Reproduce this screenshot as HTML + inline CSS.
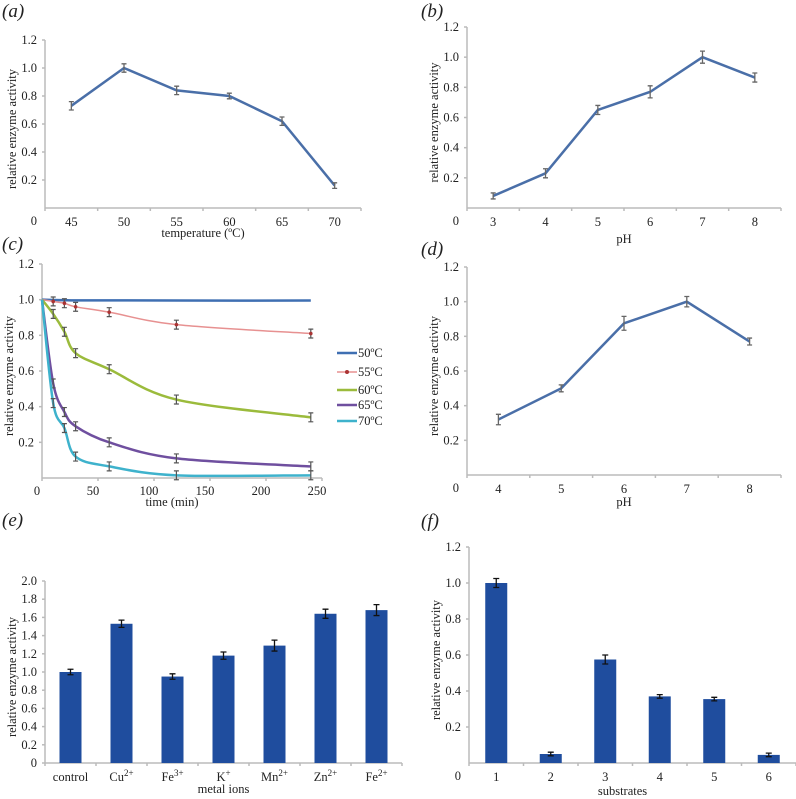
<!DOCTYPE html>
<html><head><meta charset="utf-8"><style>
body{margin:0;background:#fff}
svg{font-family:"Liberation Serif",serif;display:block}
.t{font-size:12.5px;fill:#222}
.ax{stroke:#bbb;stroke-width:1.5;fill:none}
.pl{font-size:19px;font-style:italic;fill:#222}
</style></head><body>
<svg id="s" width="796" height="799"></svg>
<script>
const aCats=['45','50','55','60','65','70'];
const aVals=[0.73,1.0,0.84,0.80,0.62,0.16];
const aErr=[0.03,0.03,0.03,0.02,0.03,0.02];
const bCats=['3','4','5','6','7','8'];
const bVals=[0.08,0.23,0.65,0.77,1.0,0.865];
const bErr=[0.02,0.03,0.03,0.04,0.04,0.03];
const dCats=['4','5','6','7','8'];
const dVals=[0.32,0.50,0.875,1.0,0.77];
const dErr=[0.03,0.02,0.04,0.03,0.02];
const cTimes=[0,10,20,30,60,120,240];
const cSeries=['50ºC','55ºC','60ºC','65ºC','70ºC'];
const c50=[1.0,0.998,0.997,0.996,0.996,0.995,0.995];
const c55=[1.0,0.99,0.98,0.96,0.93,0.86,0.81];
const c60=[1.0,0.92,0.82,0.70,0.61,0.44,0.34];
const c65=[1.0,0.53,0.37,0.29,0.20,0.11,0.065];
const c70=[1.0,0.42,0.28,0.12,0.065,0.015,0.015];
const cTicksX=[0,50,100,150,200,250];
const eCats=['control','Cu','Fe','K','Mn','Zn','Fe'];
const eSup=['','2+','3+','+','2+','2+','2+'];
const eVals=[1.0,1.53,0.95,1.18,1.29,1.64,1.68];
const eErr=[0.03,0.04,0.03,0.04,0.06,0.05,0.06];
const fCats=['1','2','3','4','5','6'];
const fVals=[1.0,0.05,0.575,0.37,0.355,0.045];
const fErr=[0.025,0.01,0.025,0.01,0.01,0.01];
const ticks12=[0.2,0.4,0.6,0.8,1.0,1.2];
const ticks20=[0,0.2,0.4,0.6,0.8,1.0,1.2,1.4,1.6,1.8,2.0];

const S=document.getElementById('s');const NS='http://www.w3.org/2000/svg';
function el(tag,at,par){const e=document.createElementNS(NS,tag);for(const k in at)e.setAttribute(k,at[k]);(par||S).appendChild(e);return e;}
function txt(x,y,s,cls,anchor,par){const e=el('text',{x:x,y:y,class:cls||'t','text-anchor':anchor||'middle'},par);e.textContent=s;return e;}

function panel(o){
  const g=el('g',{});
  
  
  const lab=txt(o.lx,o.ly,o.label,'pl','start',g);
  
  
  const Y=v=>o.y0-(v/o.ymax)*(o.y0-o.ytop);
  el('line',{x1:o.x0,y1:o.ytop,x2:o.x0,y2:o.y0,class:'ax'},g);
  el('line',{x1:o.x0,y1:o.y0,x2:o.x1,y2:o.y0,class:'ax'},g);
  o.yt.forEach(v=>{const t=txt(o.x0-8,Y(v)+4,v===0?'0':v.toFixed(1),'t','end',g);
    el('line',{x1:o.x0-3,y1:Y(v),x2:o.x0,y2:Y(v),class:'ax'},g);});
  if(o.zero){const z=txt(o.x0-8,o.y0+17,'0','t','end',g);}
  const yt=el('text',{x:0,y:0,class:'t','text-anchor':'middle',transform:`translate(${o.x0-29},${(o.ytop+o.y0)/2+5}) rotate(-90)`},g);
  yt.textContent='relative enzyme activity';
  
  const xt=txt((o.x0+o.x1)/2+o.xtOff,o.xty,o.xtitle,'t','middle',g);
  
  return {g,Y};
}
function catPanel(o){
  const {g,Y}=panel(o);
  const n=o.cats.length,w=(o.x1-o.x0)/n,X=i=>o.x0+w*(i+.5);
  for(let i=0;i<=n;i++)el('line',{x1:o.x0+w*i,y1:o.y0,x2:o.x0+w*i,y2:o.y0+3,class:'ax'},g);
  o.cats.forEach((c,i)=>{const t=txt(X(i),o.y0+18,c,'t','middle',g);
    if(o.sup&&o.sup[i]){const ts=el('tspan',{dy:-5,'font-size':9},t);ts.textContent=o.sup[i];}
    });
  if(o.bars){
    o.vals.forEach((v,i)=>{const r=el('rect',{x:X(i)-11,y:Y(v),width:22,height:o.y0-Y(v),fill:'#1f4d9e'},g);
      
      const e=o.err[i];el('path',{d:`M${X(i)},${Y(v-e)}V${Y(v+e)}M${X(i)-3},${Y(v+e)}h6M${X(i)-3},${Y(v-e)}h6`,stroke:'#111','stroke-width':1.3},g);});
  }else{
    const p=el('polyline',{points:o.vals.map((v,i)=>X(i)+','+Y(v)).join(' '),fill:'none',stroke:'#4a6fa8','stroke-width':2.5},g);
    
    o.vals.forEach((v,i)=>{const e=o.err[i];const eb=el('path',{d:`M${X(i)},${Y(v-e)}V${Y(v+e)}M${X(i)-2.5},${Y(v+e)}h5M${X(i)-2.5},${Y(v-e)}h5`,stroke:'#666','stroke-width':1.3},g);
      });
  }
}
catPanel({name:'panel-a',label:'(a)',lx:2,ly:17,x0:45,x1:361,y0:208,ytop:40,ymax:1.2,yt:ticks12,zero:true,cats:aCats,vals:aVals,err:aErr,xtitle:'temperature (ºC)',xty:237,xtOff:0});
catPanel({name:'panel-b',label:'(b)',lx:421,ly:17,x0:467,x1:781,y0:208,ytop:27,ymax:1.2,yt:ticks12,zero:true,cats:bCats,vals:bVals,err:bErr,xtitle:'pH',xty:243,xtOff:0});
catPanel({name:'panel-d',label:'(d)',lx:421,ly:255,x0:467,x1:781,y0:475,ytop:267,ymax:1.2,yt:ticks12,zero:true,cats:dCats,vals:dVals,err:dErr,xtitle:'pH',xty:506,xtOff:0});
catPanel({name:'panel-e',label:'(e)',lx:2,ly:526,x0:45,x1:402,y0:763,ytop:581,ymax:2.0,yt:ticks20,zero:false,cats:eCats,sup:eSup,vals:eVals,err:eErr,bars:true,xtitle:'metal ions',xty:793,xtOff:0});
catPanel({name:'panel-f',label:'(f)',lx:421,ly:527,x0:469,x1:796,y0:763,ytop:547,ymax:1.2,yt:ticks12,zero:true,cats:fCats,vals:fVals,err:fErr,bars:true,xtitle:'substrates',xty:795,xtOff:-10});

// panel c
(function(){
  const o={name:'panel-c',label:'(c)',lx:2,ly:250,x0:42,x1:322,y0:478,ytop:264,ymax:1.2,yt:ticks12,zero:false,xtitle:'time (min)',xty:506,xtOff:-10};
  const {g,Y}=panel(o);
  const X=t=>o.x0+(t/250)*(o.x1-o.x0);
  cTicksX.forEach(t=>{const l=txt(X(t)-5,o.y0+17,String(t),'t','middle',g);
    el('line',{x1:X(t),y1:o.y0,x2:X(t),y2:o.y0+3,class:'ax'},g);});
  const series=[c50,c55,c60,c65,c70];
  const cols=['#3f6fb2','#e79191','#9bbb3c','#6f4f9f','#3eb2cc'];
  function smooth(pts){let d=`M${pts[0][0]},${pts[0][1]}`;
    for(let i=0;i<pts.length-1;i++){const p0=pts[i-1]||pts[i],p1=pts[i],p2=pts[i+1],p3=pts[i+2]||p2;
      d+=`C${p1[0]+(p2[0]-p0[0])/6},${p1[1]+(p2[1]-p0[1])/6} ${p2[0]-(p3[0]-p1[0])/6},${p2[1]-(p3[1]-p1[1])/6} ${p2[0]},${p2[1]}`;}
    return d;}
  series.forEach((s,k)=>{
    const pts=s.map((v,i)=>[X(cTimes[i]),Y(v)]);
    const p=el('path',{d:smooth(pts),fill:'none',stroke:cols[k],'stroke-width':k===1?1.5:2.5},g);
    
    
    s.forEach((v,i)=>{if(i===0||k===0)return;const e=0.025;const x=X(cTimes[i]);
      el('path',{d:`M${x},${Y(v-e)}V${Y(v+e)}M${x-2.5},${Y(v+e)}h5M${x-2.5},${Y(v-e)}h5`,stroke:'#555','stroke-width':1.2},g);
      if(k===1)el('circle',{cx:x,cy:Y(v),r:1.8,fill:'#a33'},g);});
  });
  const ly=[353,372,390,405,421];
  cSeries.forEach((n,k)=>{const lg=el('g',{},g);
    
    
    el('line',{x1:337,y1:ly[k],x2:357,y2:ly[k],stroke:cols[k],'stroke-width':k===1?1.5:2.5},lg);
    if(k===1)el('circle',{cx:347,cy:ly[k],r:2,fill:'#a33'},lg);
    txt(358,ly[k]+4,n,'t','start',lg);});
})();
</script>
</body></html>
